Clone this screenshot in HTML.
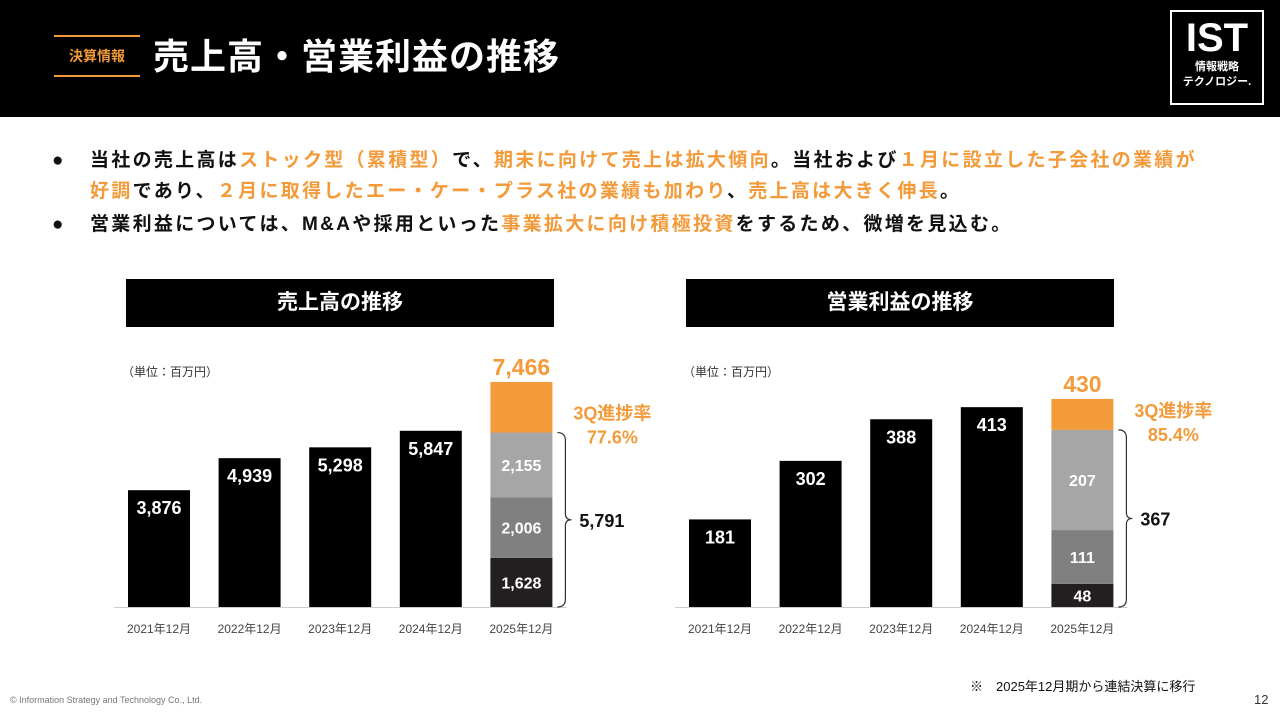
<!DOCTYPE html>
<html><head><meta charset="utf-8">
<style>
body{margin:0;width:1280px;height:720px;overflow:hidden;background:#fff;font-family:"Liberation Sans","Noto Sans CJK JP",sans-serif;position:relative}
.hdr{position:absolute;left:0;top:0;width:1280px;height:117px;background:#000}
.tag{position:absolute;left:54px;top:35px;width:86px;height:38px;border-top:2px solid #f39a3a;border-bottom:2px solid #f39a3a;color:#f39a3a;font-size:14px;font-weight:bold;line-height:38px;text-align:center}
.ttl{position:absolute;left:153px;top:28px;color:#fff;font-size:36px;letter-spacing:1px;font-weight:bold}
.logo{position:absolute;left:1170px;top:10px;width:94px;height:95px;border:2px solid #fff;box-sizing:border-box;color:#fff;text-align:center}
.bul{position:absolute;left:90px;font-size:19px;letter-spacing:2.3px;line-height:31px;font-weight:bold;color:#111;white-space:nowrap}
.dot{position:absolute;left:52px;font-size:19px;font-weight:bold;color:#111;line-height:31px}
.o{color:#f39a3a}
.ch{position:absolute;top:279px;height:48px;background:#000;color:#fff;font-size:21px;font-weight:bold;text-align:center;line-height:48px}
.foot{position:absolute;font-size:12px;color:#333}
</style></head><body>
<div class="hdr"></div>
<div class="tag">決算情報</div>
<div class="ttl">売上高・営業利益の推移</div>
<div class="logo"><div style="font-size:40px;font-weight:900;line-height:44px;margin-top:4px">IST</div><div style="font-size:11px;font-weight:bold;line-height:15px">情報戦略<br>テクノロジー.</div></div>
<div class="dot" style="top:145px">●</div>
<div class="bul" style="top:145px">当社の売上高は<span class="o">ストック型（累積型）</span>で、<span class="o">期末に向けて売上は拡大傾向</span>。当社および<span class="o">１月に設立した子会社の業績が</span><br><span class="o">好調</span>であり、<span class="o">２月に取得したエー・ケー・プラス社の業績も加わり</span>、<span class="o">売上高は大きく伸長</span>。</div>
<div class="dot" style="top:209px">●</div>
<div class="bul" style="top:209px">営業利益については、M&amp;Aや採用といった<span class="o">事業拡大に向け積極投資</span>をするため、微増を見込む。</div>
<div class="ch" style="left:126px;width:428px">売上高の推移</div>
<div class="ch" style="left:686px;width:428px">営業利益の推移</div>
<svg id="chart" width="1280" height="720" style="position:absolute;left:0;top:0"></svg>
<div class="foot" style="left:970px;top:676px;font-size:13px;color:#111">※　2025年12月期から連結決算に移行</div>
<div class="foot" style="left:10px;top:695px;font-size:9px;color:#777">© Information Strategy and Technology Co., Ltd.</div>
<div class="foot" style="left:1254px;top:692px;font-size:13px">12</div>
<script>
const categories=["2021年12月","2022年12月","2023年12月","2024年12月","2025年12月"];
const salesValues=[3876,4939,5298,5847];
const salesStack=[1628,2006,2155];
const salesStackTotal=5791;
const salesForecast=7466;
const salesRate="77.6%";
const profitValues=[181,302,388,413];
const profitStack=[48,111,207];
const profitStackTotal=367;
const profitForecast=430;
const profitRate="85.4%";
const svg=document.getElementById('chart');
const NS='http://www.w3.org/2000/svg';
function mk(t,a,txt){const e=document.createElementNS(NS,t);for(const k in a)e.setAttribute(k,a[k]);if(txt!==undefined)e.textContent=txt;svg.appendChild(e);return e;}
function fmt(v){return v.toLocaleString('en-US');}
function draw(x0,vals,stack,total,fc,rate,maxV,name){
  const base=607,h=225,bw=62,step=90.6;
  const y=v=>base-v/maxV*h;
  const xb=i=>x0+i*step;
  let l=mk('line',{x1:x0-14,x2:x0+step*4+bw+14,y1:base+0.5,y2:base+0.5,stroke:'#ccc'});
  
  let u=mk('text',{x:x0-6,y:376,'font-size':12,fill:'#333'},'（単位：百万円）');
  
  vals.forEach((v,i)=>{
    let r=mk('rect',{x:xb(i),y:y(v),width:bw,height:base-y(v),fill:'#000'});
    
    let t=mk('text',{x:xb(i)+bw/2,y:y(v)+24,'font-size':18,'font-weight':'bold',fill:'#fff','text-anchor':'middle'},fmt(v));
    
  });
  categories.forEach((c,i)=>{
    let t=mk('text',{x:xb(i)+bw/2,y:633,'font-size':12,fill:'#444','text-anchor':'middle'},c);
    
  });
  const cols=['#231f20','#808080','#a6a6a6'];
  let cum=0;const xi=xb(4);
  stack.forEach((v,j)=>{
    let r=mk('rect',{x:xi,y:y(cum+v),width:bw,height:y(cum)-y(cum+v),fill:cols[j]});
    
    let t=mk('text',{x:xi+bw/2,y:(y(cum)+y(cum+v))/2+6,'font-size':16,'font-weight':'bold',fill:'#fff','text-anchor':'middle'},fmt(v));
    
    cum+=v;
  });
  let r=mk('rect',{x:xi,y:y(fc),width:bw,height:y(cum)-y(fc),fill:'#f39a3a'});
  
  let t=mk('text',{x:xi+bw/2,y:y(fc)-7,'font-size':23,'font-weight':'bold',fill:'#f39a3a','text-anchor':'middle'},fmt(fc));
  
  const top=y(cum),mid=(top+base)/2,bx=xi+bw+5;
  let p=mk('path',{d:`M${bx},${top} q8,0 8,8 L${bx+8},${mid-6} q0,6 6,6 q-6,0 -6,6 L${bx+8},${base-8} q0,8 -8,8`,fill:'none',stroke:'#333','stroke-width':1.2});
  
  let s=mk('text',{x:bx+22,y:mid+7,'font-size':18,'font-weight':'bold',fill:'#111'},fmt(total));
  
  let a=mk('text',{x:bx+55,y:top-13,'font-size':18,'font-weight':'bold',fill:'#f39a3a','text-anchor':'middle'},'3Q進捗率');
  
  let b=mk('text',{x:bx+55,y:top+11,'font-size':18,'font-weight':'bold',fill:'#f39a3a','text-anchor':'middle'},rate);
  
}
draw(128,salesValues,salesStack,salesStackTotal,salesForecast,salesRate,7466,'sales');
draw(689,profitValues,profitStack,profitStackTotal,profitForecast,profitRate,465,'profit');
</script>
</body></html>
